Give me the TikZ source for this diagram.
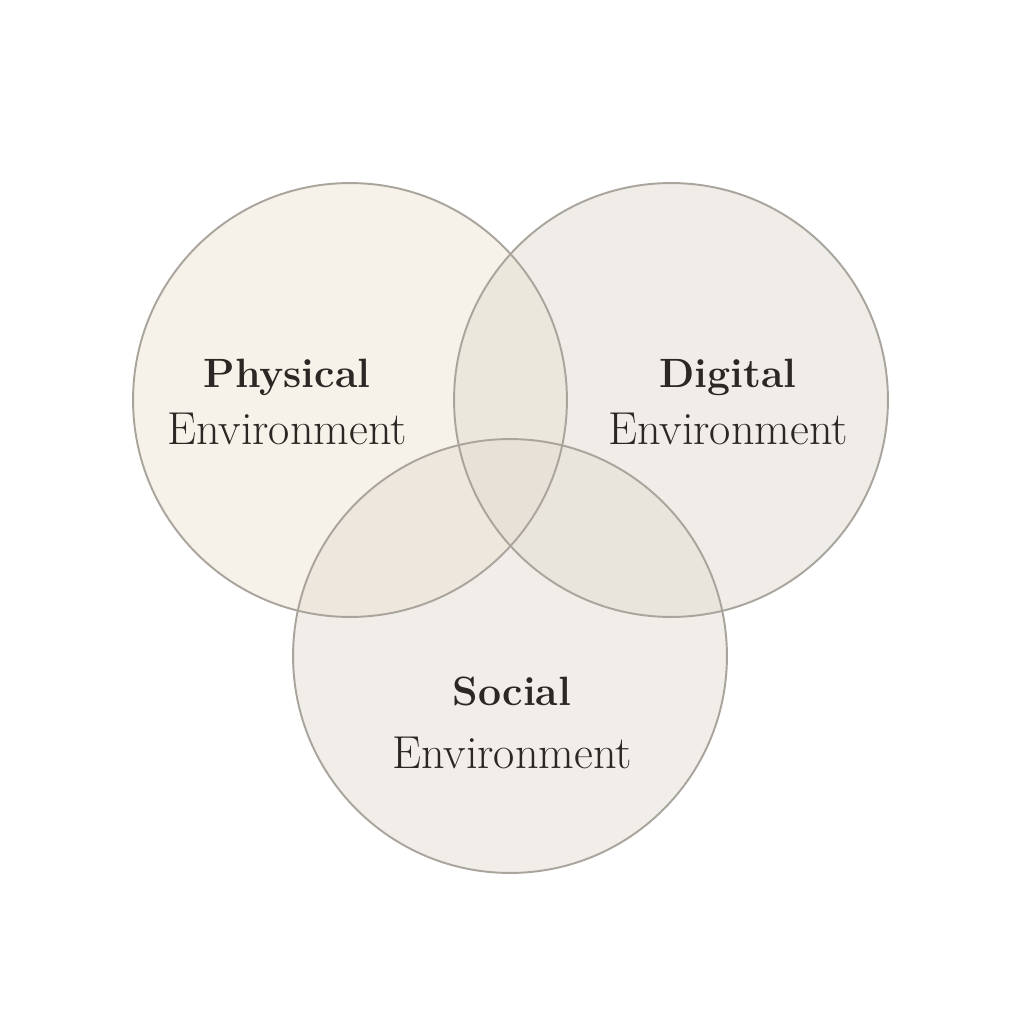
\documentclass[tikz,border=0pt]{standalone}
\usepackage{tikz}
\usetikzlibrary{positioning}
\definecolor{physfill}{HTML}{F1E7D5}
\definecolor{digifill}{HTML}{E3DDD3}
\definecolor{socfill}{HTML}{E4DDD2}
\definecolor{rim}{HTML}{A9A59D}
\definecolor{ink}{HTML}{2A2724}
\begin{document}
\begin{tikzpicture}[x=0.02cm, y=-0.02cm,
    disc/.style = {circle, minimum size=8.68cm, inner sep=0pt, fill opacity=0.5},
    ring/.style = {circle, draw=rim, line width=1.1pt, minimum size=8.68cm, inner sep=0pt},
    head/.style = {text=ink, font=\fontsize{23.3}{28}\selectfont\bfseries},
    sub/.style = {text=ink, font=\fontsize{26.3}{30}\selectfont}]

    % page
    \fill[white] (0,0) rectangle (1024,1024);
    \useasboundingbox (0,0) rectangle (1024,1024);

    % circles
    \node[disc, fill=physfill] (phys) at (350,400) {};
    \node[disc, fill=digifill] (digi) at (671,400) {};
    \node[disc, fill=socfill] (soc) at (510,656) {};
    \foreach \c in {phys,digi,soc}
        \node[ring] at (\c) {};

    % labels
    \node[head, anchor=base] (physhead) at (287,387) {Physical};
    \node[sub, anchor=base] (physsub) at (287,444) {Environment};
    \node[head, anchor=base] (digihead) at (728,387) {Digital};
    \node[sub, anchor=base] (digisub) at (728,444) {Environment};
    \node[head, anchor=base] (sochead) at (512,705) {Social};
    \node[sub, anchor=base] (socsub) at (512,768) {Environment};

\end{tikzpicture}
\end{document}
